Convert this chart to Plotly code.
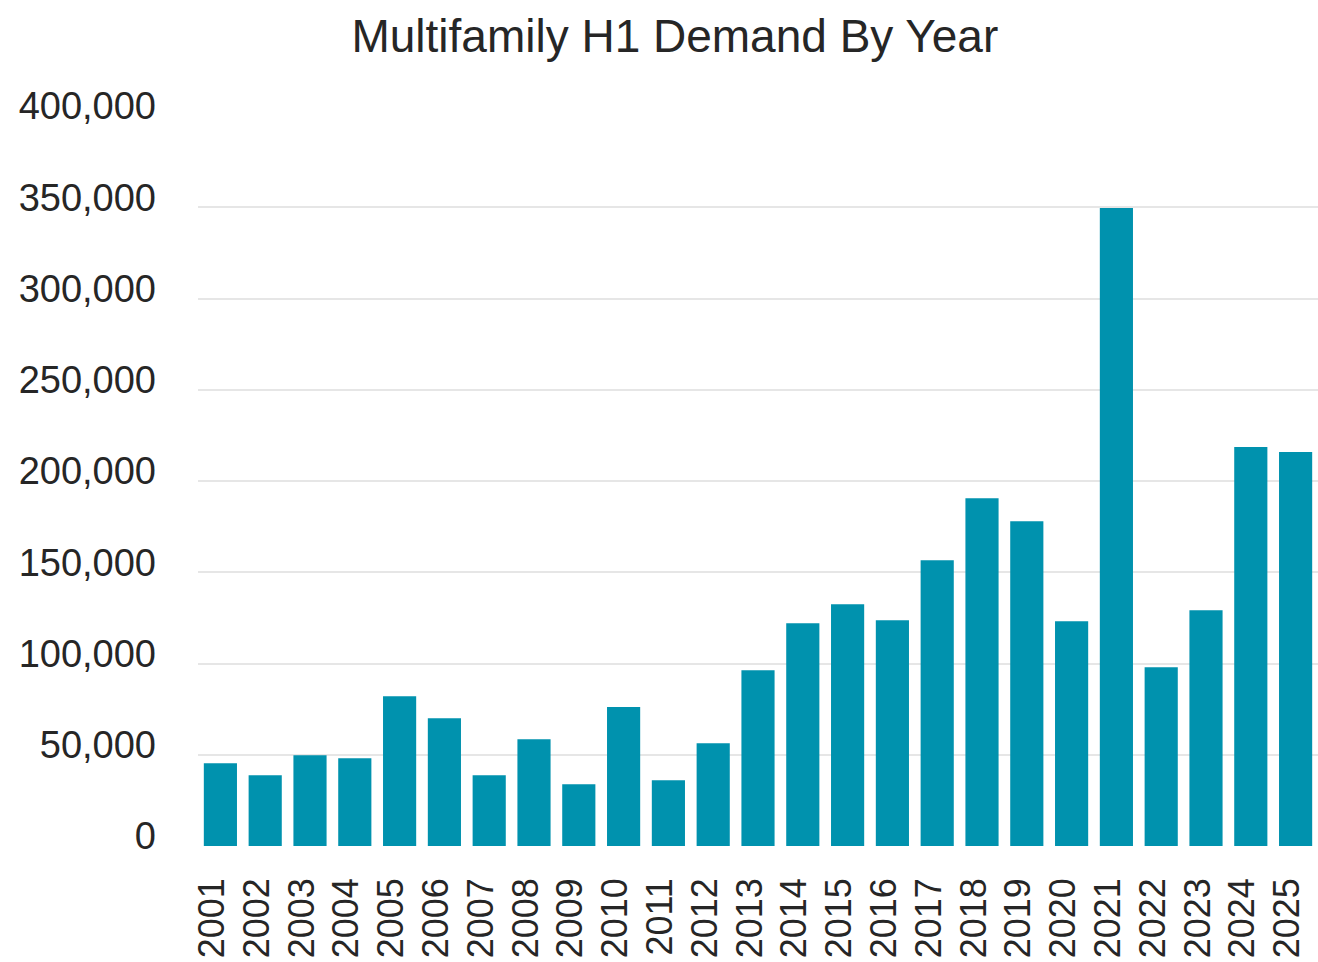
import plotly.graph_objects as go

years = [str(y) for y in range(2001, 2026)]
demand = [45300, 38700, 49700, 48100, 82100, 70000, 38800, 58500, 33900, 76100,
          36000, 56300, 96300, 122100, 132500, 123700, 156600, 190600, 178000, 123200,
          349600, 98000, 129200, 218600, 215900]
y_ticks = [0, 50000, 100000, 150000, 200000, 250000, 300000, 350000, 400000]
y_tick_text = ["0", "50,000", "100,000", "150,000", "200,000", "250,000", "300,000", "350,000", "400,000"]

FONT = "Liberation Sans, Arial, sans-serif"
TXT = "#262626"

fig = go.Figure(go.Bar(x=years, y=demand, marker_color="#0092AE", marker_line_width=0))

fig.update_layout(
    width=1318, height=962,
    margin=dict(l=198, r=0, t=116, b=116, autoexpand=False),
    paper_bgcolor="white", plot_bgcolor="white",
    bargap=0.26,
    showlegend=False,
    title=dict(text="Multifamily H1 Demand By Year", x=0.512, xref="container", xanchor="center",
               y=1 - 36 / 962, yref="container", yanchor="middle",
               font=dict(family=FONT, size=46, color=TXT)),
    font=dict(family=FONT, color=TXT),
)
fig.update_yaxes(range=[0, 400000], tickvals=y_ticks, ticktext=y_tick_text, automargin=False,
                 showgrid=True, gridcolor="#E6E6E6", gridwidth=1.5, zeroline=False,
                 showline=False, ticks="", ticklabelstandoff=41, ticklabelshift=-10,
                 tickfont=dict(family=FONT, size=38, color=TXT))
fig.update_xaxes(type="category", tickangle=-90, showgrid=False, showline=False, ticks="",
                 automargin=False, ticklabelstandoff=24, ticklabelshift=-8,
                 tickfont=dict(family=FONT, size=36, color=TXT))

fig.write_html("out.html", config={"displayModeBar": False},
               post_script="document.body.style.margin='0';")
